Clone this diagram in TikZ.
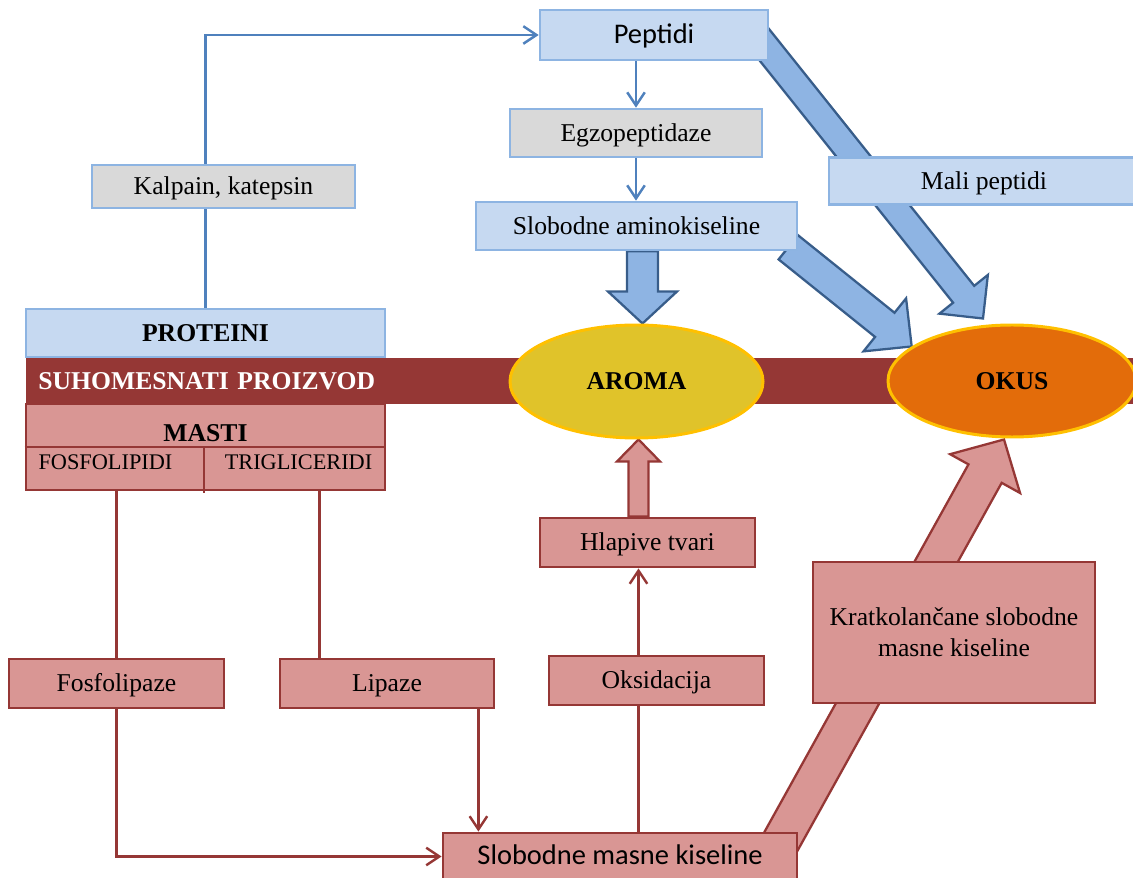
\documentclass[tikz,border=0pt]{standalone}
\usepackage{fontspec}
\setmainfont{Liberation Serif}
\newfontfamily\calibrifont{Carlito}
\usetikzlibrary{arrows.meta,positioning,calc,shapes.geometric}
\pgfdeclarelayer{arrowlayer}
\pgfsetlayers{arrowlayer,main}
\definecolor{pbfill}{RGB}{198,217,241}
\definecolor{pbedge}{RGB}{141,180,226}
\definecolor{pgray}{RGB}{217,217,217}
\definecolor{plink}{RGB}{79,129,189}
\definecolor{parrow}{RGB}{142,180,227}
\definecolor{parredge}{RGB}{56,93,138}
\definecolor{pdark}{RGB}{149,55,53}
\definecolor{ppink}{RGB}{217,150,148}
\definecolor{paroma}{RGB}{224,195,42}
\definecolor{pokus}{RGB}{227,108,10}
\definecolor{pgold}{RGB}{255,192,0}
\newcommand{\pxl}{0.02cm}
\newcommand{\sanstext}{\calibrifont\fontsize{16.2}{19.4}\selectfont}
\newcommand{\serbold}{\fontsize{14.6}{17.6}\selectfont\bfseries}
\tikzset{font=\fontsize{14.6}{17.6}\selectfont}
\tikzset{
  oneline/.style={text height=12.8pt,text depth=3.2pt},
  bluebox/.style={draw=pbedge,fill=pbfill,line width=1.5pt,inner sep=0pt},
  graybox/.style={bluebox,fill=pgray},
  pinkbox/.style={draw=pdark,fill=ppink,line width=1.6pt,inner sep=0pt},
  bandbox/.style={fill=pdark,text=white,inner ysep=0pt,font=\serbold},
  oval/.style={ellipse,draw=pgold,fill=#1,line width=1.7pt,inner sep=0pt,font=\serbold},
  bluelink/.style={draw=plink,line width=1.4pt},
  redlink/.style={draw=pdark,line width=1.4pt},
  bigblue/.style={fill=parrow,draw=parredge,line width=1.3pt,line join=miter},
  bigpink/.style={fill=ppink,draw=pdark,line width=1.3pt,line join=miter}
}
% block arrow: style, from, to, shaft half width, head half width, head length (px)
\newcommand{\blockarrow}[6]{%
  \coordinate (ba-neck) at ($(#3)!#6*\pxl!(#2)$);
  \draw[#1] ($(#2)!#4*\pxl!90:(#3)$) -- ($(ba-neck)!#4*\pxl!-90:(#2)$)
    -- ($(ba-neck)!#5*\pxl!-90:(#2)$) -- (#3)
    -- ($(ba-neck)!#5*\pxl!90:(#2)$) -- ($(ba-neck)!#4*\pxl!90:(#2)$)
    -- ($(#2)!#4*\pxl!-90:(#3)$) -- cycle;
}
\begin{document}
\begin{tikzpicture}[x=0.02cm,y=-0.02cm,>={Straight Barb[length=7.5pt,width=10pt]}]
\useasboundingbox (0,0) rectangle (1133,878);
% proteini
\node[bluebox,oneline,minimum width=228*\pxl,minimum height=50*\pxl,font=\sanstext] (pept) at (654,35) {Peptidi};
\node[graybox,oneline,minimum width=252*\pxl,minimum height=48*\pxl] (egzo) at (636,133) {Egzopeptidaze};
\node[bluebox,oneline,minimum width=321*\pxl,minimum height=48*\pxl] (sak) at (636.5,226) {Slobodne aminokiseline};
\node[bluebox,oneline,minimum width=310*\pxl,minimum height=47*\pxl] (mali) at (984,181) {Mali peptidi};
\node[graybox,oneline,minimum width=263*\pxl,minimum height=43*\pxl] (kalp) at (223.5,186.5) {Kalpain, katepsin};
\node[bluebox,minimum width=359*\pxl,minimum height=48*\pxl,font=\serbold] (prot) at (205.5,333) {PROTEINI};
% proizvod
\node[bandbox,anchor=west,minimum height=46*\pxl,text width=1088*\pxl,inner xsep=12*\pxl,align=left] (suho) at (26,381) {SUHOMESNATI PROIZVOD};
% masti
\node[pinkbox,minimum width=359*\pxl,minimum height=86*\pxl] (masti) at (205.5,447) {};
\draw[draw=pdark,line width=1.6pt] (masti.west) -- (masti.east);
\draw[draw=pdark,line width=1.6pt] ($(masti.center)+(-1.5,0)$) -- ($(masti.south)+(-1.5,2)$);
\node[font=\serbold] (mastilbl) at (205.5,433) {MASTI};
\node[font=\fontsize{12.7}{15}\selectfont] (fosfo) at (105.5,462) {FOSFOLIPIDI};
\node[font=\fontsize{12.7}{15}\selectfont] (trigli) at (298.5,462) {TRIGLICERIDI};
% aroma i okus
\node[oval=paroma,minimum width=253*\pxl,minimum height=113*\pxl] (aroma) at (636.5,381.5) {AROMA};
\node[oval=pokus,minimum width=248*\pxl,minimum height=112*\pxl] (okus) at (1012,381) {OKUS};
% lipidi
\node[pinkbox,oneline,minimum width=215*\pxl,minimum height=49*\pxl] (fosl) at (116.5,683.5) {Fosfolipaze};
\node[pinkbox,oneline,minimum width=214*\pxl,minimum height=49*\pxl] (lip) at (387,683.5) {Lipaze};
\node[pinkbox,oneline,minimum width=215*\pxl,minimum height=49*\pxl] (oks) at (656.5,680.5) {Oksidacija};
\node[pinkbox,oneline,minimum width=215*\pxl,minimum height=49*\pxl] (hlap) at (647.5,542.5) {Hlapive tvari};
\node[pinkbox,minimum width=282*\pxl,minimum height=141*\pxl,align=center] (kratk) at (954,632.5) {Kratkolančane slobodne\\masne kiseline};
\node[pinkbox,oneline,minimum width=354*\pxl,minimum height=47*\pxl,font=\sanstext] (smk) at (620,856.5) {Slobodne masne kiseline};
\coordinate (col) at ($(aroma.south)+(2,0)$);
\coordinate (trigout) at ($(masti.south east)+(-67,0)$);
\coordinate (lipout) at ($(lip.south east)+(-17,0)$);
\coordinate (a1s) at ($(sak.south)+(6,0)$);
\coordinate (a1e) at ($(aroma.north)+(6,0)$);
\coordinate (a2s) at ($(sak.south east)+(-10,-4)$);
\coordinate (a2e) at (okus.161);
\coordinate (a3s) at ($(pept.east)+(-20,-9)$);
\coordinate (a3e) at ($(okus.north)+(-29,-5)$);
\coordinate (b1s) at (hlap.north -| col);
\coordinate (b1e) at (aroma.south -| col);
\coordinate (b2s) at ($(smk.north east)+(-27,27)$);
\coordinate (b2e) at ($(okus.south)+(-8,1)$);
\begin{pgfonlayer}{arrowlayer}
\draw[bluelink,->] (prot.north) |- (pept.west);
\draw[bluelink,->] (pept.south -| egzo.north) -- (egzo.north);
\draw[bluelink,->] (egzo.south) -- (sak.north -| egzo.south);
\draw[redlink] (masti.south -| fosl.north) -- (fosl.north);
\draw[redlink] (trigout) -- (trigout |- lip.north);
\draw[redlink,->] (fosl.south) |- (smk.west);
\draw[redlink,->] (lipout) -- (lipout |- smk.north);
\draw[redlink] (smk.north -| col) -- (oks.south -| col);
\draw[redlink,->] (oks.north -| col) -- (hlap.south -| col);
\blockarrow{bigblue}{a3s}{a3e}{13.5}{31}{31}
\blockarrow{bigblue}{a1s}{a1e}{15.5}{34.5}{32}
\blockarrow{bigblue}{a2s}{a2e}{15.5}{34}{34.5}
\blockarrow{bigpink}{b1s}{b1e}{10}{21.5}{22}
\blockarrow{bigpink}{b2s}{b2e}{19}{40}{39}
\end{pgfonlayer}
\end{tikzpicture}
\end{document}
